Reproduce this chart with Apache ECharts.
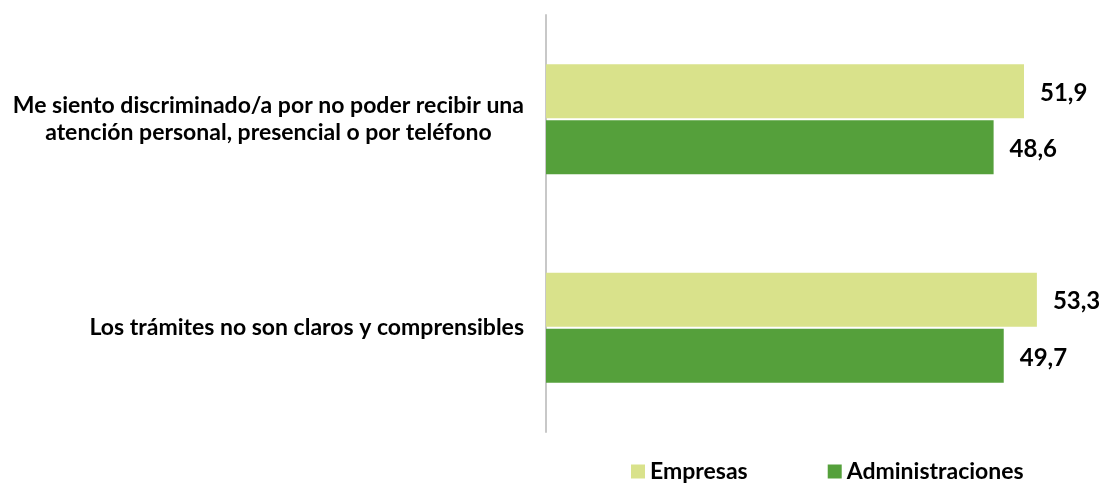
<!DOCTYPE html>
<html>
<head>
<meta charset="utf-8">
<script src="https://cdn.jsdelivr.net/npm/echarts@6/dist/echarts.min.js"></script>
<style>
  html, body { margin: 0; padding: 0; background: #ffffff; }
  #chart { width: 1101px; height: 487px; }
</style>
</head>
<body>
<div id="chart"></div>
<script>
// Categories, top to bottom
const categories = [
  'Me siento discriminado/a por no poder recibir una\natención personal, presencial o por teléfono',
  'Los trámites no son claros y comprensibles'
];
const seriesNames = ['Empresas', 'Administraciones'];
const empresas = [51.9, 53.3];
const administraciones = [48.6, 49.7];

const FONT = 'Lato, "Open Sans", sans-serif';
const colors = ['#d9e28b', '#55a03b'];

const valueLabel = {
  show: true,
  position: 'right',
  distance: 16,
  offset: [0, 2],
  color: '#000000',
  fontFamily: FONT,
  fontWeight: 'bold',
  fontSize: 24,
  formatter: p => p.value.toFixed(1).replace('.', ',')
};

const chart = echarts.init(document.getElementById('chart'), null, { renderer: 'canvas' });
chart.setOption({
  backgroundColor: '#ffffff',
  animation: false,
  grid: { left: 546, right: 2.4, top: 15, bottom: 55, containLabel: false },
  legend: {
    data: seriesNames,
    left: 631,
    top: 460,
    padding: 0,
    itemWidth: 14,
    itemHeight: 14,
    itemGap: 80,
    icon: 'rect',
    textStyle: { fontFamily: FONT, fontWeight: 'bold', fontSize: 23, color: '#000000' }
  },
  xAxis: {
    type: 'value',
    min: 0,
    max: 60,
    show: false
  },
  yAxis: {
    type: 'category',
    data: categories,
    inverse: true,
    axisTick: { show: false },
    axisLine: { show: true, lineStyle: { color: '#c8c8c8', width: 2 } },
    splitLine: { show: false },
    axisLabel: {
      margin: 22,
      align: 'right',
      formatter: v => v.split('\n').map(s => '{c|' + s + '}').join('\n'),
      rich: {
        c: {
          align: 'center',
          fontFamily: FONT,
          fontWeight: 'bold',
          fontSize: 23,
          lineHeight: 27,
          color: '#000000'
        }
      }
    }
  },
  series: [
    {
      name: seriesNames[0],
      type: 'bar',
      data: empresas,
      barWidth: 54,
      barGap: '4%',
      itemStyle: { color: colors[0] },
      label: valueLabel
    },
    {
      name: seriesNames[1],
      type: 'bar',
      data: administraciones,
      barWidth: 54,
      barGap: '4%',
      itemStyle: { color: colors[1] },
      label: valueLabel
    }
  ]
});
</script>
</body>
</html>
